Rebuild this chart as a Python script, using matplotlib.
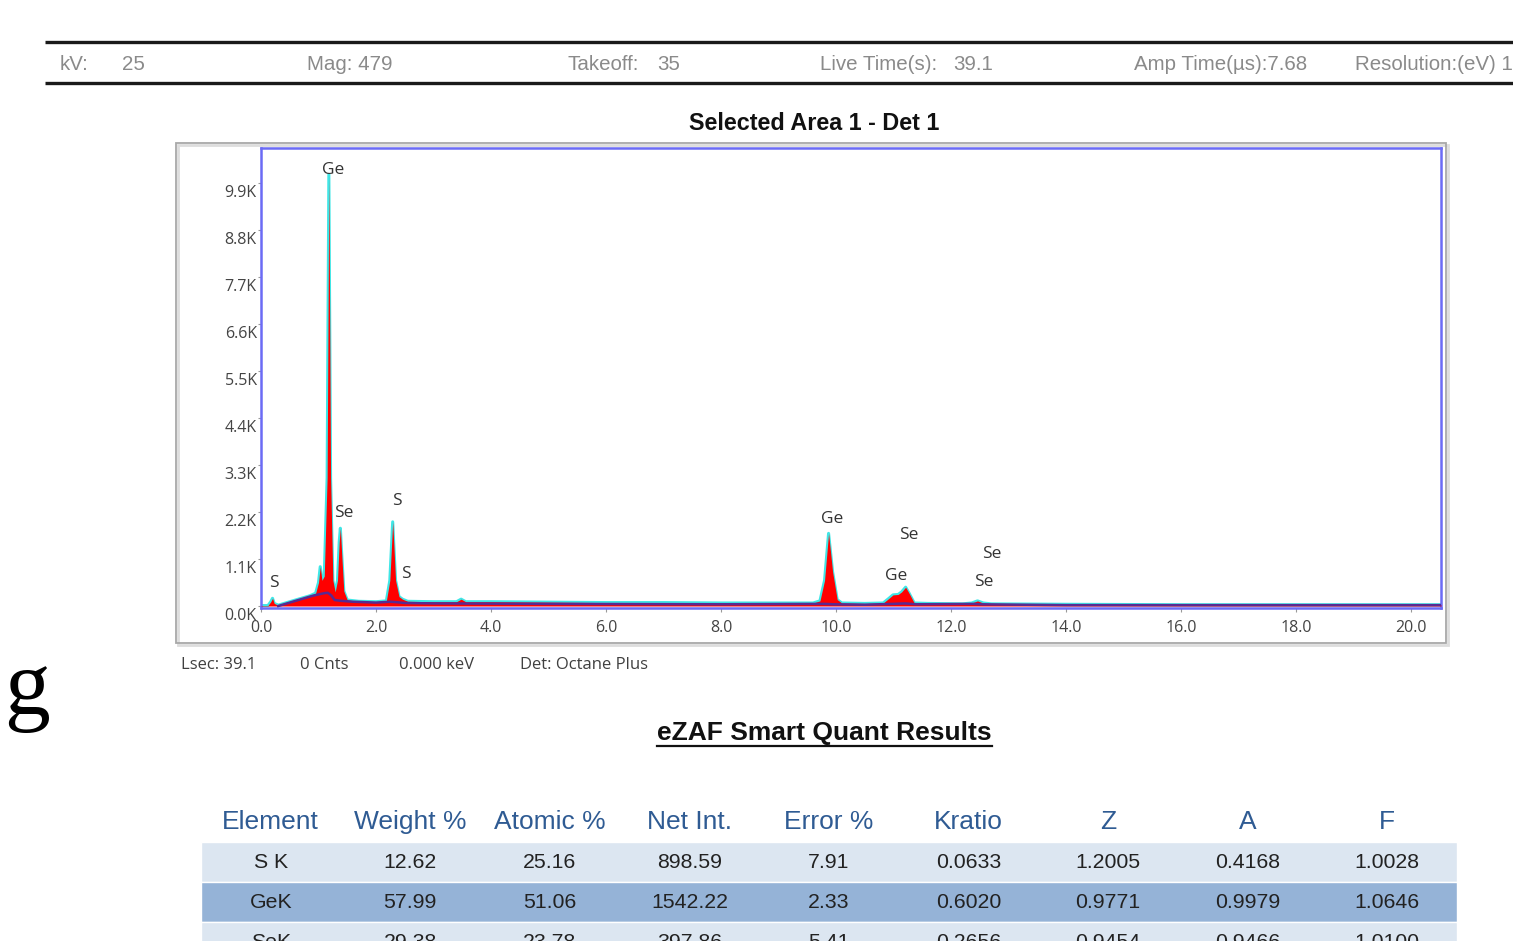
import matplotlib
matplotlib.use("Agg")
import matplotlib.pyplot as plt
from matplotlib.patches import Rectangle
from matplotlib.lines import Line2D
import matplotlib.transforms as mtransforms

# ---------------- data ----------------
header_items = ["kV:", "25", "Mag: 479", "Takeoff:", "35", "Live Time(s):", "39.1",
                "Amp Time(\u00b5s):7.68", "Resolution:(eV) 1"]

chart_title = "Selected Area 1 - Det 1"

energy_kev = [0.00, 0.12, 0.17, 0.20, 0.23, 0.30, 0.40, 0.55, 0.70, 0.85, 0.95, 1.00,
              1.03, 1.06, 1.10, 1.15, 1.18, 1.21, 1.25, 1.29, 1.33, 1.36, 1.38, 1.40,
              1.44, 1.50, 1.70, 2.00, 2.18, 2.24, 2.29, 2.34, 2.40, 2.46, 2.55, 3.00,
              3.40, 3.48, 3.56, 4.00, 5.00, 6.00, 7.00, 8.00, 9.00, 9.60, 9.72, 9.80,
              9.87, 9.94, 10.02, 10.10, 10.50, 10.82, 10.92, 10.99, 11.08, 11.14, 11.21,
              11.27, 11.36, 11.60, 12.20, 12.36, 12.46, 12.56, 12.70, 14.00, 16.00,
              18.00, 20.00, 20.52]
counts_k = [0.01, 0.01, 0.10, 0.18, 0.06, 0.02, 0.06, 0.12, 0.18, 0.24, 0.30, 0.55,
            0.92, 0.60, 0.70, 3.00, 10.10, 3.00, 0.60, 0.33, 0.60, 1.50, 1.82, 1.30,
            0.35, 0.14, 0.11, 0.10, 0.12, 0.60, 1.97, 0.60, 0.22, 0.16, 0.11, 0.10,
            0.10, 0.16, 0.10, 0.10, 0.09, 0.08, 0.08, 0.07, 0.07, 0.07, 0.12, 0.60,
            1.70, 0.80, 0.15, 0.07, 0.06, 0.07, 0.18, 0.26, 0.27, 0.33, 0.44,
            0.30, 0.07, 0.06, 0.05, 0.07, 0.12, 0.07, 0.05, 0.04, 0.03,
            0.03, 0.03, 0.03]

bkg_kev = [0.30, 0.50, 0.70, 0.90, 1.10, 1.16, 1.22, 1.28, 1.40, 1.60, 2.00, 2.25,
           2.35, 2.50, 3.00, 5.00, 8.00, 9.80, 9.95, 10.50, 11.00, 11.20, 11.40,
           12.40, 12.50, 14.00, 20.52]
bkg_counts_k = [0.00, 0.08, 0.16, 0.24, 0.30, 0.31, 0.25, 0.14, 0.12, 0.10, 0.08, 0.10,
                0.09, 0.07, 0.06, 0.05, 0.04, 0.05, 0.04, 0.03, 0.05, 0.06, 0.04,
                0.05, 0.04, 0.02, 0.02]

peak_labels = ["S", "Ge", "Se", "S", "S", "Ge", "Ge", "Se", "Se", "Se"]
peak_label_kev = [0.23, 1.25, 1.44, 2.36, 2.52, 9.94, 11.05, 11.26, 12.56, 12.70]
peak_label_counts_k = [0.54, 10.20, 2.18, 2.46, 0.75, 2.04, 0.71, 1.67, 0.57, 1.22]

x_ticks = [0.0, 2.0, 4.0, 6.0, 8.0, 10.0, 12.0, 14.0, 16.0, 18.0, 20.0]
y_ticks = [0.0, 1.1, 2.2, 3.3, 4.4, 5.5, 6.6, 7.7, 8.8, 9.9]

footer_items = ["Lsec: 39.1", "0 Cnts", "0.000 keV", "Det: Octane Plus"]

table_title = "eZAF Smart Quant Results"
table_columns = ["Element", "Weight %", "Atomic %", "Net Int.", "Error %", "Kratio", "Z", "A", "F"]
elements = ["S K", "GeK", "SeK"]
weight_pct = ["12.62", "57.99", "29.38"]
atomic_pct = ["25.16", "51.06", "23.78"]
net_int = ["898.59", "1542.22", "397.86"]
error_pct = ["7.91", "2.33", "5.41"]
kratio = ["0.0633", "0.6020", "0.2656"]
z_corr = ["1.2005", "0.9771", "0.9454"]
a_corr = ["0.4168", "0.9979", "0.9466"]
f_corr = ["1.0028", "1.0646", "1.0100"]

# ---------------- figure ----------------
W, H, DPI = 1513, 941, 100
fig = plt.figure(figsize=(W / DPI, H / DPI), dpi=DPI, facecolor="white")


def fx(px):
    return px / W


def fy(py):
    return 1 - py / H


# header band
for yl in (42, 83):
    fig.add_artist(Line2D([fx(45), 1.0], [fy(yl), fy(yl)], transform=fig.transFigure,
                          color="#1a1a1a", lw=2.4, solid_capstyle="butt"))
header_x = [60, 122, 307, 567, 657, 820, 953, 1134, 1355]
for txt, x in zip(header_items, header_x):
    fig.text(fx(x), fy(64), txt, ha="left", va="center", fontsize=14.8,
             color="#8a8a8a", family="Liberation Sans")

# chart title
fig.text(fx(814), fy(124), chart_title, ha="center", va="center", fontsize=16.8,
         fontweight="bold", family="Liberation Sans", color="#111111")

# outer frame with shadow
fig.add_artist(Rectangle((fx(178), fy(645)), (1446 - 176) / W, (643 - 143) / H,
                         transform=fig.transFigure, fill=False, ec="#dddddd", lw=2))
fig.add_artist(Rectangle((fx(176), fy(643)), (1446 - 176) / W, (643 - 143) / H,
                         transform=fig.transFigure, fill=False, ec="#a8a8a8", lw=1.3))

# spectrum axes
ax = fig.add_axes([fx(261), fy(608), (1441 - 261) / W, (608 - 148) / H])
ax.set_xlim(0, 20.52)
ax.set_ylim(-0.047, 10.719)

ax.plot(energy_kev, counts_k, color="#3fe6e6", lw=2.2, zorder=2, solid_joinstyle="round")
ax.fill_between(energy_kev, 0, counts_k, color="#ff0000", lw=0, zorder=3)
ax.plot(bkg_kev, bkg_counts_k, color="#5a2a92", lw=1.8, zorder=4)

for lab, xk, yk in zip(peak_labels, peak_label_kev, peak_label_counts_k):
    ax.text(xk, yk, lab, ha="center", va="center", fontsize=12.5, color="#333333",
            family="Open Sans", zorder=5)

for sp in ax.spines.values():
    sp.set_color("#6b6bf5")
    sp.set_linewidth(1.8)

ax.set_xticks(x_ticks)
ax.set_xticklabels([f"{v:.1f}" for v in x_ticks])
ax.set_yticks(y_ticks)
ax.set_yticklabels([f"{v:.1f}K" for v in y_ticks])
ax.tick_params(axis="x", direction="out", length=3, width=0.8, color="#999999",
               pad=5.5, labelsize=11.5, labelcolor="#444444")
ax.tick_params(axis="y", direction="out", length=2, width=0.8, color="#999999",
               pad=1, labelsize=11.5, labelcolor="#444444")
for t in ax.get_xticklabels() + ax.get_yticklabels():
    t.set_family("Open Sans")
offset = mtransforms.ScaledTranslation(0, -8.5 / 100, fig.dpi_scale_trans)
for t in ax.get_yticklabels():
    t.set_transform(t.get_transform() + offset)

# footer
footer_x = [181, 300, 399, 520]
for txt, x in zip(footer_items, footer_x):
    fig.text(fx(x), fy(665), txt, ha="left", va="center", fontsize=12,
             color="#404040", family="Open Sans")

# stray glyph from surrounding document
fig.text(fx(4), fy(714), "g", ha="left", va="baseline", fontsize=66,
         family="Liberation Serif", color="black")

# table title
fig.text(fx(824), fy(733), table_title, ha="center", va="center", fontsize=19,
         fontweight="bold", family="Liberation Sans", color="#111111")
fig.add_artist(Line2D([fx(657), fx(992)], [fy(746), fy(746)], transform=fig.transFigure,
                      color="#111111", lw=1.6))

# table
tax = fig.add_axes([fx(201), fy(962), (1457 - 201) / W, (962 - 802) / H])
tax.set_xlim(0, len(table_columns))
tax.set_ylim(4, 0)
tax.axis("off")
row_colors = ["#dce6f1", "#95b3d7", "#dce6f1"]
for r, c in enumerate(row_colors):
    tax.add_patch(Rectangle((0, r + 1), len(table_columns), 1, facecolor=c,
                            edgecolor="white", lw=1))
for ci, name in enumerate(table_columns):
    tax.text(ci + 0.5, 0.5, name, ha="center", va="center", fontsize=19,
             color="#2f5b93", family="Liberation Sans")
cols = [elements, weight_pct, atomic_pct, net_int, error_pct, kratio, z_corr, a_corr, f_corr]
for ci, col in enumerate(cols):
    for ri, val in enumerate(col):
        tax.text(ci + 0.5, ri + 1.5, val, ha="center", va="center", fontsize=15.3,
                 color="#222222", family="Liberation Sans")

fig.savefig("out.png", dpi=DPI, facecolor="white")
